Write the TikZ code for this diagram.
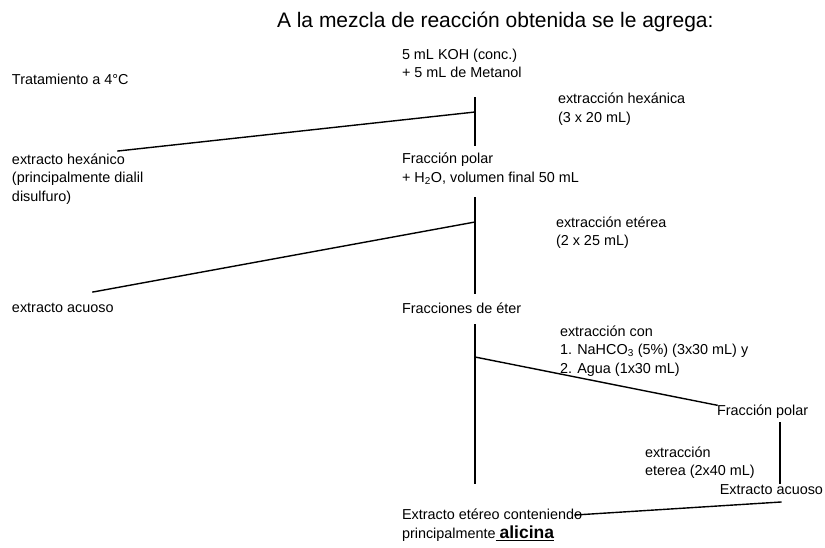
\documentclass[tikz,border=0pt]{standalone}
\usepackage{fontspec}
\setmainfont{Liberation Sans}
\begin{document}
\begin{tikzpicture}[x=1pt, y=-1pt, font=\fontsize{14.4}{18.5}\selectfont, every node/.style={inner sep=0pt, outer sep=0pt, anchor = west, align=left}, line join=miter, line cap=rect, linea/.style={line width=1.4pt}]
        \useasboundingbox (0,0) rectangle (825,547);
        \node[font=\fontsize{21}{25}\selectfont] (titulo) at (277, 22) {A la mezcla de reacción obtenida se le agrega:};
        \node (trat) at (12, 79) {Tratamiento a 4°C};
        \node (koh) at (402, 63.5) {5 mL KOH (conc.)\\+ 5 mL de Metanol};
        \node (hexanica) at (558, 109) {extracción hexánica\\(3 x 20 mL)};
        \node (exthex) at (12, 179) {extracto hexánico\\(principalmente dialil\\disulfuro)};
        \node (fpolar) at (402, 169) {Fracción polar\\+ H\textsubscript{2}O, volumen final 50 mL};
        \node (eterea) at (556, 232.5) {extracción etérea\\(2 x 25 mL)};
        \node (acuoso) at (12, 308) {extracto acuoso};
        \node (fracc) at (402, 308) {Fracciones de éter};
        \node (extcon) at (560, 351) {extracción con\\1. NaHCO\textsubscript{3} (5\%) (3x30 mL) y\\2. Agua (1x30 mL)};
        \node (fpolar2) at (717, 412) {Fracción polar};
        \node (eter2) at (645, 462.5) {extracción\\eterea (2x40 mL)};
        \node[anchor=east] (extacuoso) at (823, 490) {Extracto acuoso};
        \node (final) at (402, 525) {Extracto etéreo conteniendo\\[1pt]principalmente\underline{ \textbf{\fontsize{17.5}{20}\selectfont alicina}}};
        % puntos de union
        \coordinate (v1a) at (475, 98);
        \coordinate (v1b) at (475, 145);
        \coordinate (d1) at (475, 112);
        \coordinate (d1e) at (118, 151);
        \coordinate (v2a) at (475, 198);
        \coordinate (v2b) at (475, 293);
        \coordinate (d2) at (475, 222);
        \coordinate (d2e) at (93, 292);
        \coordinate (v3a) at (475, 325);
        \coordinate (v3b) at (475, 483);
        \coordinate (d3) at (475, 357);
        \coordinate (v4a) at (780, 423);
        \coordinate (v4b) at (780, 483);
        \coordinate (d4) at (781, 502);
        \coordinate (d4e) at (575, 515);
        % lineas
        \draw[linea] (v1a) -- (v1b);
        \draw[linea] (d1) -- (d1e);
        \draw[linea] (v2a) -- (v2b);
        \draw[linea] (d2) -- (d2e);
        \draw[linea] (v3a) -- (v3b);
        \draw[linea] (d3) -- (fpolar2.north west);
        \draw[linea] (v4a) -- (v4b);
        \draw[linea] (d4) -- (d4e);
    \end{tikzpicture}
\end{document}
